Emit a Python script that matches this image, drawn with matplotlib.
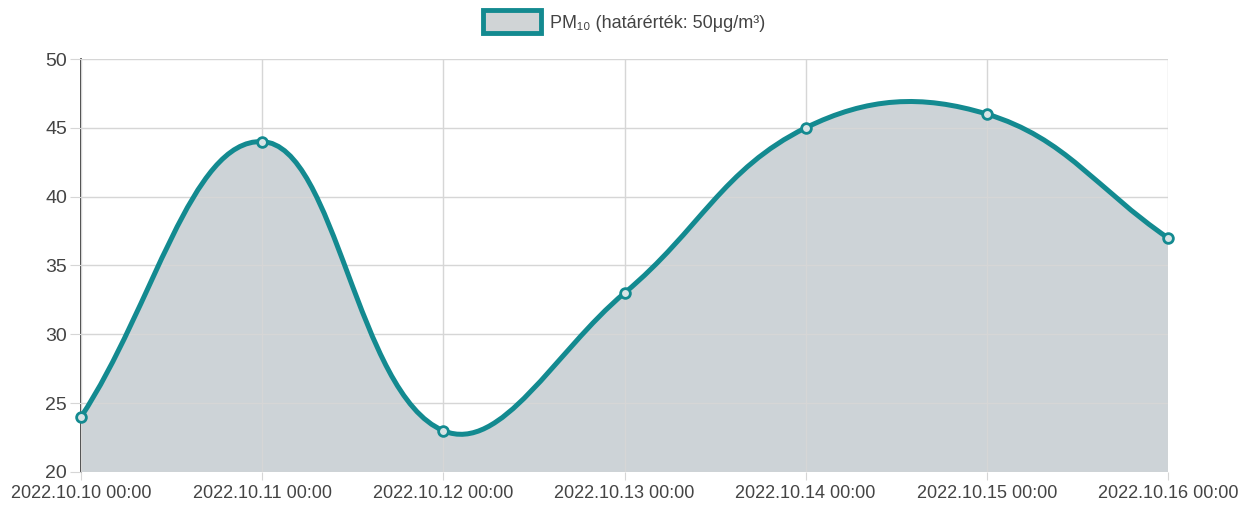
import matplotlib
matplotlib.use("Agg")
import matplotlib.pyplot as plt
from matplotlib.path import Path
from matplotlib.patches import PathPatch, Patch
from matplotlib import font_manager as fm
import numpy as np

categories = ["2022.10.10 00:00", "2022.10.11 00:00", "2022.10.12 00:00",
              "2022.10.13 00:00", "2022.10.14 00:00", "2022.10.15 00:00",
              "2022.10.16 00:00"]
pm10 = [24, 44, 23, 33, 45, 46, 37]
y_ticks = [20, 25, 30, 35, 40, 45, 50]
legend_label = "PM₁₀ (határérték: 50μg/m³)"

names = {f.name for f in fm.fontManager.ttflist}
fam = ["Liberation Sans Narrow"] if "Liberation Sans Narrow" in names else []
plt.rcParams["font.family"] = fam + ["Liberation Sans", "DejaVu Sans"]

LINE = "#138a90"
FILL = "#cdd3d7"
GRID = "#d6d6d6"

fig = plt.figure(figsize=(12.41, 5.17), dpi=100)
W, H = 1241, 517
x0, x1, ytop, ybot = 81, 1168, 59, 472
ax = fig.add_axes([x0 / W, (H - ybot) / H, (x1 - x0) / W, (ybot - ytop) / H])
xs = np.arange(len(categories))
ax.set_xlim(0, len(categories) - 1)
ax.set_ylim(20, 50)

# Chart.js-style bezier (tension 0.4) computed in pixel space
pts = ax.transData.transform(np.column_stack([xs, pm10]))
t = 0.4
n = len(pts)
cps = []
for i in range(n):
    prev = pts[i - 1] if i > 0 else pts[i]
    cur = pts[i]
    nxt = pts[i + 1] if i < n - 1 else pts[i]
    d01 = np.hypot(*(cur - prev))
    d12 = np.hypot(*(nxt - cur))
    s = d01 + d12
    s01 = d01 / s if s else 0
    s12 = d12 / s if s else 0
    cps.append((cur - t * s01 * (nxt - prev), cur + t * s12 * (nxt - prev)))
verts = [pts[0]]
codes = [Path.MOVETO]
for i in range(n - 1):
    verts += [cps[i][1], cps[i + 1][0], pts[i + 1]]
    codes += [Path.CURVE4] * 3
inv = ax.transData.inverted()
dverts = inv.transform(np.array(verts))
curve = Path(dverts, codes)
fill_verts = list(dverts) + [(xs[-1], 20), (xs[0], 20), dverts[0]]
fill_codes = codes + [Path.LINETO, Path.LINETO, Path.CLOSEPOLY]
ax.add_patch(PathPatch(Path(fill_verts, fill_codes), facecolor=FILL, edgecolor="none", zorder=1))
ax.add_patch(PathPatch(curve, facecolor="none", edgecolor=LINE, linewidth=3.6, zorder=3,
                       clip_on=False))
ax.plot(xs, pm10, linestyle="none", marker="o", markersize=7, markerfacecolor="#d8e4e6",
        markeredgecolor=LINE, markeredgewidth=2, zorder=4, clip_on=False)

ax.set_xticks(xs)
ax.set_xticklabels(categories)
ax.set_yticks(y_ticks)
ax.grid(True, color=GRID, linewidth=1, zorder=2)
ax.set_axisbelow(False)
for gl in ax.get_xgridlines() + ax.get_ygridlines():
    gl.set_zorder(2)
for sp in ["top", "right", "bottom"]:
    ax.spines[sp].set_visible(False)
ax.spines["left"].set_color("#333333")
ax.spines["left"].set_linewidth(1.2)
ax.tick_params(axis="y", length=8, color=GRID, labelsize=14, labelcolor="#444444", pad=2)
ax.tick_params(axis="x", length=6, color=GRID, labelsize=13, labelcolor="#444444", pad=3)

handle = Patch(facecolor="#d0d4d6", edgecolor=LINE, linewidth=3.5)
fig.legend([handle], [legend_label], loc="upper center", bbox_to_anchor=(0.503, 1.012),
           frameon=False, fontsize=13, handlelength=3.2, handleheight=1.6,
           labelcolor="#444444", handletextpad=0.5)

fig.savefig("out.png", dpi=100)
